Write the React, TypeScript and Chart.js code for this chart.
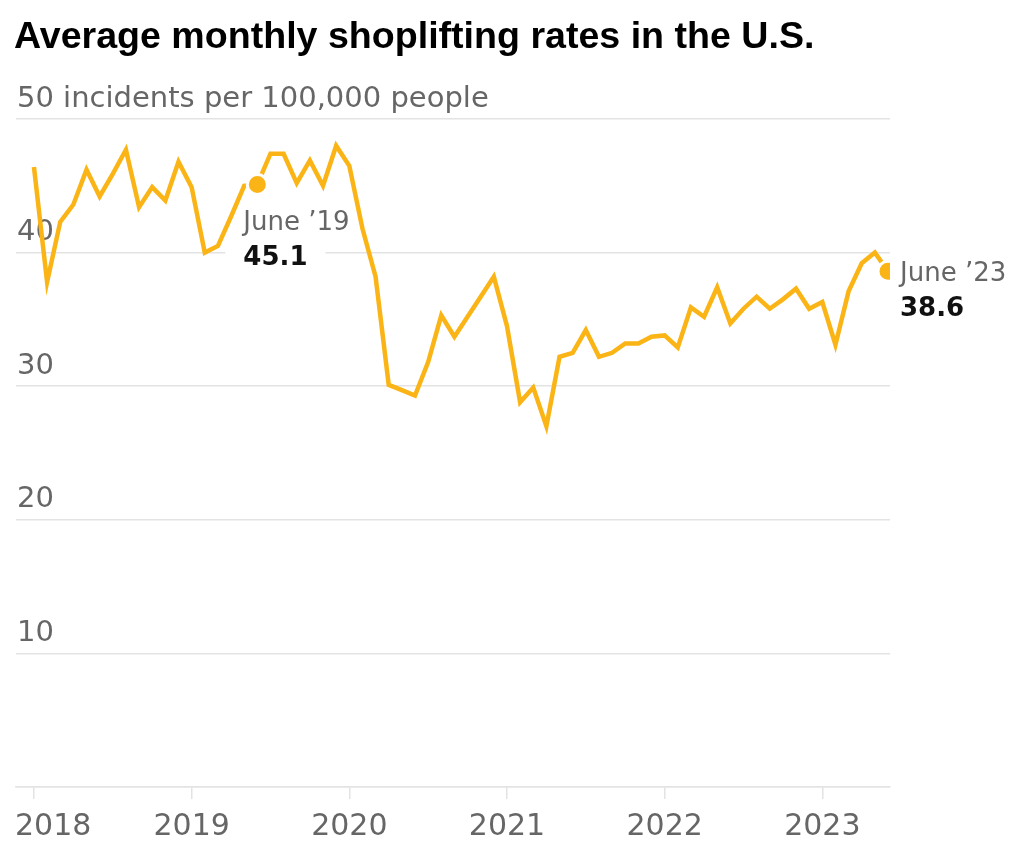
import React, { useEffect, useRef } from 'react';
import { Chart, registerables } from 'chart.js';

Chart.register(...registerables);

// ---- data ----
const TITLE = 'Average monthly shoplifting rates in the U.S.';
const Y_UNIT = 'incidents per 100,000 people';
const YEARS = ['2018', '2019', '2020', '2021', '2022', '2023'];
const Y_TICKS = [0, 10, 20, 30, 40, 50];

const RATE_2018 = [46.4, 37.8, 42.3, 43.6, 46.2, 44.2, 45.9, 47.7, 43.4, 44.9, 43.9, 46.8];
const RATE_2019 = [44.9, 40.0, 40.5, 42.7, 45.0, 45.1, 47.4, 47.4, 45.2, 46.9, 45.0, 48.0];
const RATE_2020 = [46.5, 41.8, 38.2, 30.1, 29.7, 29.3, 31.8, 35.3, 33.7, 35.2, 36.7, 38.2];
const RATE_2021 = [34.5, 28.8, 29.9, 27.0, 32.2, 32.5, 34.2, 32.2, 32.5, 33.2, 33.2, 33.7];
const RATE_2022 = [33.8, 32.9, 35.9, 35.2, 37.4, 34.7, 35.8, 36.7, 35.8, 36.5, 37.3, 35.8];
const RATE_2023 = [36.3, 33.1, 37.1, 39.2, 40.0, 38.6];

const CALLOUT_INDEX = [17, 65];
const CALLOUT_LABEL = ['June \u201919', 'June \u201923'];

const RATES = [...RATE_2018, ...RATE_2019, ...RATE_2020, ...RATE_2021, ...RATE_2022, ...RATE_2023];

// ---- style ----
const LINE = '#fbb415';
const GRAY = '#666666';
const GRID = '#e3e3e3';
const SANS = '"DejaVu Sans", sans-serif';
const CALLOUT_OFFSET = [
  { dx: -14, dy: 46 },
  { dx: 12, dy: 10 },
];

const textPlugin = {
  id: 'texts',
  beforeDatasetsDraw(chart: any) {
    const { ctx } = chart;
    const meta = chart.getDatasetMeta(0);
    ctx.save();
    ctx.font = `bold 26px ${SANS}`;
    CALLOUT_INDEX.forEach((idx, k) => {
      const pt = meta.data[idx];
      const off = CALLOUT_OFFSET[k];
      const x = pt.x + off.dx;
      const base = pt.y + off.dy + 35;
      const w = ctx.measureText(RATES[idx].toFixed(1)).width;
      ctx.fillStyle = '#ffffff';
      ctx.fillRect(x - 18, base - 24, w + 36, 30);
    });
    ctx.restore();
  },
  afterDatasetsDraw(chart: any) {
    const { ctx } = chart;
    const xs = chart.scales.x;
    const meta = chart.getDatasetMeta(0);
    ctx.save();
    // title
    ctx.fillStyle = '#000000';
    ctx.textBaseline = 'alphabetic';
    ctx.textAlign = 'left';
    ctx.font = `bold 37.6px "Liberation Sans", Arial, sans-serif`;
    ctx.fillText(TITLE, 14, 48);

    // x labels
    ctx.font = `30px ${SANS}`;
    ctx.fillStyle = GRAY;
    YEARS.forEach((y, i) => {
      const px = xs.getPixelForValue(i * 12);
      const w = ctx.measureText(y).width;
      let left = px - w / 2;
      if (left < chart.chartArea.left) left = chart.chartArea.left - 1;
      ctx.fillText(y, left, 835);
    });

    // callouts
    CALLOUT_INDEX.forEach((idx, k) => {
      const pt = meta.data[idx];
      const off = CALLOUT_OFFSET[k];
      const x = pt.x + off.dx;
      const base = pt.y + off.dy;
      ctx.font = `26px ${SANS}`;
      ctx.fillStyle = GRAY;
      ctx.fillText(CALLOUT_LABEL[k], x, base);
      ctx.font = `bold 26px ${SANS}`;
      ctx.fillStyle = '#111111';
      ctx.fillText(RATES[idx].toFixed(1), x, base + 35);
    });
    ctx.restore();
  },
};

export default function App() {
  const ref = useRef<HTMLCanvasElement | null>(null);

  useEffect(() => {
    if (!ref.current) return;
    const chart = new Chart(ref.current, {
      type: 'line',
      data: {
        datasets: [
          {
            data: RATES.map((v, i) => ({ x: i, y: v })),
            borderColor: LINE,
            backgroundColor: LINE,
            borderWidth: 4.5,
            tension: 0,
            fill: false,
            pointRadius: (c: any) => (CALLOUT_INDEX.includes(c.dataIndex) ? 10 : 0),
            pointBorderColor: '#ffffff',
            pointBorderWidth: 3,
            pointBackgroundColor: LINE,
            pointHoverRadius: 10,
          },
        ],
      },
      options: {
        responsive: false,
        animation: false,
        events: [],
        layout: { padding: { left: 14, top: 119, right: 134, bottom: 58 } },
        plugins: { legend: { display: false }, tooltip: { enabled: false }, title: { display: false } },
        scales: {
          x: {
            type: 'linear',
            min: -1.367,
            max: 65.152,
            border: { display: true, color: GRID, width: 1.5 },
            grid: { drawOnChartArea: false, drawTicks: true, tickLength: 12, color: GRID, lineWidth: 1.5 },
            ticks: { display: false },
            afterBuildTicks: (s: any) => {
              s.ticks = YEARS.map((_, i) => ({ value: i * 12 }));
            },
          },
          y: {
            min: 0,
            max: 50,
            border: { display: false },
            grid: { drawTicks: false, color: GRID, lineWidth: 1.5 },
            afterBuildTicks: (s: any) => {
              s.ticks = Y_TICKS.map((v) => ({ value: v }));
            },
            ticks: {
              mirror: true,
              padding: 1,
              labelOffset: -20,
              autoSkip: false,
              color: GRAY,
              font: { family: SANS, size: 29 },
              callback: (v: any) => (v === 0 ? '' : v === 50 ? `50 ${Y_UNIT}` : String(v)),
            },
          },
        },
      },
      plugins: [textPlugin],
    });
    return () => chart.destroy();
  }, []);

  return (
    <div style={{ position: 'absolute', left: 0, top: 0, width: 1024, height: 857, background: '#fff' }}>
      <canvas ref={ref} width={1024} height={857} style={{ display: 'block', width: 1024, height: 857 }} />
    </div>
  );
}
